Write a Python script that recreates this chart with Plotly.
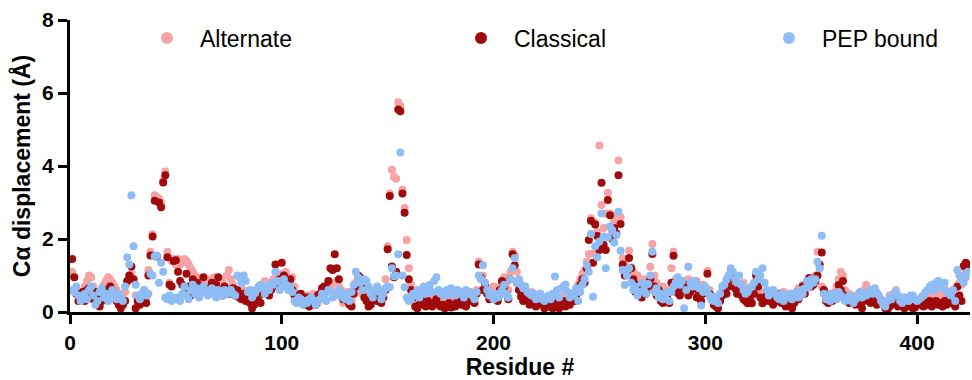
import plotly.graph_objects as go

# Cα displacement per residue (Å)
ALTERNATE = [
    1.1, 0.95, 0.6, 0.5, 0.4, 0.55, 0.7, 0.85, 1.0, 0.95, 0.7, 0.5, 0.35, 0.5, 0.6, 0.75, 0.85, 0.95, 0.9, 0.8, 0.7, 0.6, 0.4, 0.25, 0.35,
    0.55, 0.8, 1.0, 1.05, 0.9, 0.45, 0.25, 0.35, 0.5, 0.6, 0.4, 1.15, 1.65, 2.13, 3.2, 3.15, 3.1, 3.0, 3.6, 3.85, 1.65, 0.8, 1.4, 1.45, 1.3,
    1.45, 1.3, 1.35, 1.45, 1.4, 1.3, 1.2, 1.1, 1.0, 0.95, 0.85, 0.9, 0.75, 0.8, 0.9, 0.7, 0.85, 0.95, 0.75, 0.6, 0.9, 0.8, 0.65, 1.0, 1.15,
    0.9, 0.75, 0.6, 0.55, 0.5, 0.45, 0.6, 0.4, 0.35, 0.45, 0.3, 0.5, 0.35, 0.45, 0.6, 0.7, 0.85, 0.8, 0.6, 0.75, 0.9, 0.85, 0.95, 1.0, 1.05,
    1.0, 1.1, 0.9, 0.85, 0.95, 0.7, 0.5, 0.45, 0.4, 0.3, 0.35, 0.45, 0.4, 0.35, 0.5, 0.3, 0.25, 0.4, 0.5, 0.45, 0.6, 0.7, 0.65, 0.55, 0.8,
    0.85, 0.7, 0.6, 0.25, 0.45, 0.55, 0.4, 0.3, 0.6, 0.8, 0.9, 0.7, 0.5, 0.6, 0.45, 0.35, 0.3, 0.5, 0.55, 0.65, 0.5, 0.4, 0.6, 0.9, 1.8,
    3.25, 3.9, 3.7, 3.65, 5.75, 5.65, 3.35, 2.85, 1.97, 1.2, 0.75, 0.55, 0.4, 0.3, 0.25, 0.35, 0.3, 0.4, 0.25, 0.3, 0.35, 0.45, 0.3, 0.2, 0.35,
    0.3, 0.45, 0.35, 0.25, 0.4, 0.3, 0.35, 0.45, 0.3, 0.25, 0.4, 0.35, 0.5, 0.55, 0.45, 0.35, 0.6, 1.38, 1.3, 1.0, 0.8, 0.65, 0.5, 0.55, 0.7,
    0.6, 0.5, 0.7, 0.78, 0.95, 0.8, 0.6, 1.1, 1.65, 1.55, 1.1, 0.9, 0.7, 0.5, 0.6, 0.45, 0.4, 0.55, 0.35, 0.3, 0.4, 0.5, 0.3, 0.25, 0.2,
    0.3, 0.4, 0.25, 0.35, 0.2, 0.3, 0.25, 0.45, 0.3, 0.4, 0.35, 0.5, 0.45, 0.6, 0.75, 0.9, 1.05, 1.15, 1.38, 1.59, 2.57, 1.6, 2.45, 2.2, 4.56,
    2.93, 2.3, 2.7, 3.27, 2.7, 2.2, 2.5, 2.65, 4.15, 2.6, 1.47, 1.3, 1.15, 1.68, 1.22, 1.1, 0.9, 1.0, 0.85, 0.7, 0.9, 0.75, 0.6, 1.24, 1.86,
    1.0, 0.8, 0.6, 0.45, 0.7, 0.5, 0.35, 0.6, 1.2, 1.65, 0.9, 0.8, 0.65, 0.75, 0.85, 0.7, 0.9, 0.8, 0.6, 0.7, 0.85, 0.5, 0.65, 0.75, 0.6,
    1.12, 0.6, 0.45, 0.3, 0.25, 0.4, 0.5, 0.6, 0.75, 0.7, 0.9, 1.1, 0.85, 0.75, 0.6, 0.5, 0.7, 0.8, 0.65, 0.55, 0.5, 0.4, 0.6, 0.85, 0.7,
    0.55, 0.4, 0.3, 0.45, 0.35, 0.5, 0.6, 0.45, 0.35, 0.5, 0.4, 0.55, 0.3, 0.45, 0.35, 0.5, 0.4, 0.55, 0.65, 0.5, 0.75, 0.6, 0.85, 0.7, 0.9,
    0.8, 1.0, 1.65, 1.2, 0.7, 0.5, 0.35, 0.45, 0.5, 0.4, 0.55, 0.7, 0.9, 1.1, 1.0, 0.6, 0.45, 0.5, 0.35, 0.3, 0.45, 0.4, 0.35, 0.5, 0.6,
    0.74, 0.5, 0.4, 0.55, 0.6, 0.45, 0.3, 0.35, 0.2, 0.25, 0.3, 0.45, 0.4, 0.5, 0.6, 0.35, 0.3, 0.25, 0.4, 0.3, 0.2, 0.25, 0.35, 0.15, 0.2,
    0.25, 0.35, 0.3, 0.4, 0.5, 0.45, 0.55, 0.4, 0.5, 0.6, 0.45, 0.55, 0.65, 0.5, 0.4, 0.55, 0.6, 0.45, 0.7, 0.8, 0.75, 0.9, 1.1, 1.2,
]

CLASSICAL = [
    1.45, 0.95, 0.5, 0.3, 0.45, 0.55, 0.3, 0.6, 0.65, 0.5, 0.35, 0.55, 0.4, 0.15, 0.3, 0.5, 0.6, 0.45, 0.7, 0.6, 0.5, 0.3, 0.2, 0.1, 0.2,
    0.3, 0.85, 1.0, 1.25, 0.9, 0.1, 0.3, 0.2, 0.35, 0.3, 0.25, 1.0, 1.55, 2.07, 3.05, 1.52, 3.0, 2.87, 3.55, 3.75, 1.5, 0.75, 0.7, 1.4, 1.42,
    1.1, 0.85, 0.75, 0.5, 1.05, 0.7, 0.45, 0.9, 0.65, 0.8, 0.55, 0.7, 0.95, 0.6, 0.5, 0.65, 0.8, 0.55, 0.75, 0.95, 0.6, 0.45, 0.7, 0.5, 0.55,
    0.5, 0.65, 0.45, 0.6, 0.4, 0.35, 0.5, 0.3, 0.45, 0.25, 0.1, 0.2, 0.35, 0.3, 0.25, 0.5, 0.55, 0.65, 0.45, 0.6, 0.7, 1.3, 0.8, 0.9, 1.35,
    1.0, 0.8, 0.75, 0.9, 0.6, 0.45, 0.35, 0.3, 0.5, 0.25, 0.2, 0.4, 0.15, 0.35, 0.3, 0.2, 0.45, 0.5, 0.65, 0.7, 0.65, 0.85, 1.2, 1.15, 1.58,
    1.2, 0.9, 0.5, 0.35, 0.45, 0.3, 0.2, 0.15, 0.5, 0.7, 1.0, 0.95, 0.65, 0.4, 0.3, 0.15, 0.2, 0.35, 0.45, 0.3, 0.5, 0.25, 0.4, 0.6, 1.72,
    3.18, 1.25, 0.95, 1.1, 5.55, 5.5, 3.25, 2.72, 1.56, 0.9, 0.6, 0.4, 0.15, 0.1, 0.2, 0.3, 0.25, 0.15, 0.3, 0.2, 0.15, 0.25, 0.35, 0.2, 0.15,
    0.2, 0.1, 0.15, 0.25, 0.12, 0.2, 0.15, 0.3, 0.25, 0.2, 0.35, 0.15, 0.4, 0.3, 0.45, 0.25, 0.5, 1.3, 0.94, 0.6, 0.75, 0.5, 0.35, 0.45, 0.4,
    0.45, 0.3, 0.6, 0.85, 0.7, 0.5, 0.35, 0.9, 1.58, 1.28, 0.8, 0.6, 0.42, 0.3, 0.5, 0.35, 0.2, 0.4, 0.3, 0.15, 0.25, 0.35, 0.2, 0.1, 0.15,
    0.15, 0.2, 0.1, 0.25, 0.15, 0.1, 0.2, 0.3, 0.15, 0.25, 0.2, 0.35, 0.3, 0.45, 0.6, 0.75, 0.9, 0.8, 1.2, 1.97, 2.5, 1.35, 2.4, 2.08, 1.7,
    3.54, 1.84, 1.7, 3.07, 2.65, 2.0, 2.3, 2.15, 3.75, 2.41, 1.3, 1.0, 1.1, 1.48, 1.2, 0.9, 0.55, 0.75, 0.6, 0.4, 0.65, 0.5, 0.7, 0.9, 1.59,
    0.7, 0.45, 0.6, 0.3, 0.25, 0.5, 0.4, 0.25, 0.8, 1.54, 0.6, 0.52, 0.45, 0.7, 0.6, 0.75, 0.45, 0.55, 0.7, 0.65, 0.4, 0.55, 0.3, 0.5, 0.6,
    1.05, 0.5, 0.35, 0.2, 0.15, 0.1, 0.3, 0.45, 0.6, 0.5, 0.7, 1.0, 0.9, 0.65, 0.5, 0.56, 0.46, 0.35, 0.3, 0.24, 0.35, 0.24, 0.5, 1.0, 0.7,
    0.4, 0.24, 0.35, 0.45, 0.3, 0.35, 0.2, 0.4, 0.3, 0.5, 0.25, 0.35, 0.15, 0.3, 0.2, 0.1, 0.25, 0.45, 0.35, 0.55, 0.7, 0.5, 0.75, 0.93, 0.7,
    0.75, 0.85, 1.0, 1.3, 1.63, 0.6, 0.3, 0.25, 0.4, 0.3, 0.35, 0.5, 0.74, 0.6, 0.85, 0.45, 0.3, 0.25, 0.35, 0.3, 0.2, 0.3, 0.25, 0.1, 0.3,
    0.35, 0.4, 0.25, 0.45, 0.3, 0.2, 0.35, 0.25, 0.25, 0.1, 0.05, 0.15, 0.2, 0.3, 0.25, 0.15, 0.2, 0.3, 0.1, 0.25, 0.35, 0.15, 0.1, 0.12, 0.2,
    0.3, 0.2, 0.15, 0.25, 0.2, 0.3, 0.15, 0.25, 0.3, 0.2, 0.25, 0.15, 0.3, 0.2, 0.35, 0.25, 0.4, 0.15, 0.69, 0.45, 0.3, 1.26, 1.35, 1.3,
]

PEP_BOUND = [
    0.6, 0.55, 0.7, 0.45, 0.3, 0.4, 0.5, 0.35, 0.6, 0.7, 0.45, 0.2, 0.3, 0.55, 0.65, 0.4, 0.5, 0.3, 0.45, 0.6, 0.5, 0.35, 0.5, 0.4, 0.3,
    0.7, 1.5, 1.3, 3.2, 1.8, 0.75, 0.45, 0.35, 0.5, 0.6, 0.45, 0.5, 1.05, 1.0, 1.52, 1.55, 0.8, 1.35, 1.1, 0.4, 0.35, 0.45, 0.3, 0.4, 0.35,
    0.4, 0.3, 0.5, 0.7, 0.45, 0.35, 0.6, 0.75, 0.5, 0.65, 0.4, 0.55, 0.7, 0.6, 0.45, 0.5, 0.65, 0.55, 0.4, 0.6, 0.5, 0.45, 0.6, 0.5, 0.55,
    0.6, 0.5, 0.45, 1.0, 0.95, 0.8, 1.0, 0.85, 0.55, 0.6, 0.4, 0.5, 0.6, 0.7, 0.75, 0.65, 0.5, 0.7, 0.6, 0.8, 0.75, 1.1, 0.85, 0.6, 0.7,
    0.9, 0.75, 0.6, 0.7, 0.55, 0.3, 0.25, 0.4, 0.35, 0.2, 0.3, 0.25, 0.35, 0.4, 0.3, 0.2, 0.3, 0.35, 0.5, 0.45, 0.3, 0.6, 0.55, 0.4, 0.5,
    0.45, 0.6, 0.55, 0.4, 0.35, 0.5, 0.3, 0.55, 0.75, 1.1, 0.95, 0.8, 0.6, 0.9, 0.85, 0.7, 0.5, 0.4, 0.6, 0.7, 0.55, 0.35, 0.5, 0.65, 0.7,
    0.68, 1.2, 0.98, 1.0, 1.58, 4.37, 1.0, 0.68, 0.4, 0.3, 0.35, 0.5, 0.45, 0.6, 0.4, 0.55, 0.7, 0.5, 0.65, 0.75, 0.55, 0.85, 0.95, 0.6, 0.5,
    0.55, 0.45, 0.6, 0.5, 0.65, 0.55, 0.45, 0.6, 0.5, 0.55, 0.4, 0.6, 0.55, 0.5, 0.45, 0.35, 0.55, 1.0, 0.9, 1.28, 0.8, 0.6, 0.45, 0.5, 0.35,
    0.5, 0.4, 0.45, 0.6, 0.75, 0.5, 0.4, 0.9, 1.2, 1.48, 0.8, 0.9, 0.75, 0.65, 0.7, 0.55, 0.5, 0.45, 0.5, 0.35, 0.4, 0.5, 0.35, 0.3, 0.4,
    0.45, 0.35, 0.5, 0.97, 0.6, 0.4, 0.65, 0.7, 0.75, 0.55, 0.4, 0.5, 0.45, 0.65, 0.3, 0.55, 0.75, 0.9, 1.29, 1.1, 2.14, 0.42, 1.8, 1.5, 1.93,
    2.7, 2.07, 1.2, 2.05, 2.34, 2.25, 1.9, 2.1, 2.75, 1.68, 1.15, 0.74, 1.0, 1.2, 0.8, 0.6, 0.7, 0.45, 0.55, 0.8, 0.6, 0.5, 0.77, 1.0, 1.65,
    0.55, 0.65, 0.4, 0.5, 0.35, 0.45, 0.55, 0.3, 0.55, 0.7, 0.8, 0.95, 0.75, 0.85, 0.1, 0.6, 1.24, 0.8, 0.7, 0.85, 0.75, 0.65, 0.18, 0.55, 0.7,
    0.6, 0.45, 0.33, 0.3, 0.4, 0.25, 0.5, 0.7, 0.75, 0.9, 1.0, 1.2, 1.1, 0.9, 0.8, 1.0, 0.75, 0.6, 0.5, 0.55, 0.65, 0.7, 0.8, 1.1, 0.9,
    1.0, 1.2, 0.8, 0.6, 0.45, 0.55, 0.6, 0.5, 0.4, 0.35, 0.5, 0.3, 0.45, 0.4, 0.5, 0.35, 0.45, 0.55, 0.4, 0.6, 0.5, 0.65, 0.85, 0.7, 0.9,
    0.8, 0.9, 1.38, 1.2, 2.09, 0.5, 0.35, 0.45, 0.3, 0.5, 0.4, 0.35, 0.55, 0.45, 0.4, 0.3, 0.35, 0.45, 0.3, 0.25, 0.35, 0.45, 0.55, 0.4, 0.5,
    0.45, 0.55, 0.6, 0.5, 0.65, 0.55, 0.45, 0.3, 0.2, 0.15, 0.3, 0.4, 0.35, 0.5, 0.55, 0.45, 0.3, 0.25, 0.4, 0.35, 0.3, 0.45, 0.45, 0.35, 0.3,
    0.35, 0.4, 0.45, 0.55, 0.6, 0.7, 0.75, 0.6, 0.8, 0.85, 0.7, 0.65, 0.8, 0.55, 0.5, 0.45, 0.6, 0.3, 1.15, 1.01, 0.9, 0.8, 0.95, 1.1,
]

SERIES_NAMES = ["Alternate", "Classical", "PEP bound"]
SERIES_COLORS = ["#F5A3A5", "#A00A0A", "#8DBDF4"]
X_TICKS = [0, 100, 200, 300, 400]
Y_TICKS = [0, 2, 4, 6, 8]

FONT = "Liberation Sans, Arial, sans-serif"

fig = go.Figure()
legend_ids = ["legend", "legend2", "legend3"]
for name, vals, color, lg in zip(SERIES_NAMES, [ALTERNATE, CLASSICAL, PEP_BOUND], SERIES_COLORS, legend_ids):
    residues = list(range(1, len(vals) + 1))
    fig.add_trace(go.Scatter(
        x=residues, y=vals, mode="markers", name=name, legend=lg,
        marker=dict(size=8, color=color, line=dict(width=0)),
    ))

axis_common = dict(
    showline=True, linewidth=3, linecolor="black", mirror=False,
    ticks="outside", ticklen=9, tickwidth=3, tickcolor="black",
    showgrid=False, zeroline=False, automargin=False,
    tickfont=dict(family=FONT, size=21, color="black", weight="bold"),
)

legend_common = dict(
    orientation="h", y=0.938, xanchor="left", yanchor="middle",
    font=dict(family=FONT, size=23, color="black"),
    bgcolor="rgba(0,0,0,0)", itemsizing="constant", itemwidth=56,
)

fig.update_layout(
    width=972, height=380,
    margin=dict(l=70, r=2, t=20, b=68),
    paper_bgcolor="white", plot_bgcolor="white",
    font=dict(family=FONT, color="black"),
    xaxis=dict(range=[0, 425], tickvals=X_TICKS, ticklabelstandoff=1, **axis_common,
               title=dict(text="<b>Residue #</b>", font=dict(family=FONT, size=23), standoff=5)),
    yaxis=dict(range=[0, 8], tickvals=Y_TICKS, ticklabelstandoff=0, **axis_common,
               title=dict(text="<b>Cα displacement (Å)</b>", font=dict(family=FONT, size=23), standoff=6)),
    legend=dict(x=0.0711, **legend_common),
    legend2=dict(x=0.4200, **legend_common),
    legend3=dict(x=0.7622, **legend_common),
    showlegend=True,
)

fig.write_html("out.html")
